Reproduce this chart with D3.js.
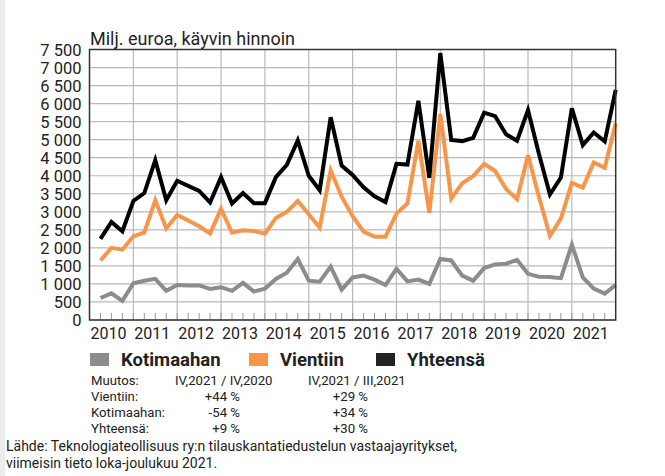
<!DOCTYPE html>
<html>
<head>
<meta charset="utf-8">
<script src="https://cdn.jsdelivr.net/npm/d3@7"></script>
<style>
    body { margin: 0; background: #fff; }
    text { font-family: Roboto, "DejaVu Sans", sans-serif; fill: #222; }
</style>
</head>
<body>
<div id="chart"></div>
<script>
    // years on the x axis, one value per quarter (Q1..Q4) in the series
    const years = [2010, 2011, 2012, 2013, 2014, 2015, 2016, 2017, 2018, 2019, 2020, 2021];

    const yhteensa = [
        2250, 2720, 2460, 3300,  3520, 4430, 3320, 3860,  3720, 3580, 3260, 3960,
        3230, 3520, 3240, 3240,  3960, 4300, 4980, 4000,  3600, 5620, 4280, 4020,
        3680, 3430, 3270, 4330,  4310, 6080, 3940, 7400,  4990, 4960, 5050, 5750,
        5650, 5150, 4970, 5820,  4600, 3480, 3950, 5870,  4850, 5200, 4950, 6380
    ];
    const vientiin = [
        1650, 2000, 1950, 2320,  2430, 3320, 2540, 2910,  2760, 2600, 2400, 3080,
        2420, 2490, 2470, 2390,  2830, 3000, 3300, 2930,  2560, 4150, 3420, 2880,
        2450, 2310, 2310, 2950,  3230, 4970, 2970, 5710,  3370, 3790, 3990, 4330,
        4130, 3630, 3350, 4570,  3410, 2330, 2810, 3800,  3670, 4370, 4220, 5450
    ];
    const kotimaahan = [
        610, 740, 530, 1020,  1090, 1140, 810, 970,  960, 960, 860, 910,
        810, 1030, 790, 870,  1140, 1310, 1690, 1090,  1060, 1480, 840, 1180,
        1230, 1120, 970, 1420,  1070, 1120, 1000, 1690,  1650, 1230, 1090, 1440,
        1540, 1560, 1670, 1280,  1200, 1190, 1160, 2090,  1180, 870, 730, 970
    ];
    const yTicks = d3.range(0, 7501, 500);

    const tableRows = [
        ["Muutos:", "IV,2021 / IV,2020", "IV,2021 / III,2021"],
        ["Vientiin:", "+44 %", "+29 %"],
        ["Kotimaahan:", "-54 %", "+34 %"],
        ["Yhteensä:", "+9 %", "+30 %"]
    ];

    const W = 665, H = 476;
    const plot = {left: 89.5, right: 615.7, top: 49.5, bottom: 320};

    const svg = d3.select("#chart").append("svg")
        .attr("width", W)
        .attr("height", H);

    // light grey strip on the left edge
    svg.append("rect").attr("x", 0).attr("y", 0).attr("width", 5).attr("height", H).attr("fill", "#ececec");

    const x = d3.scaleLinear()
        .domain([0, years.length * 4])
        .range([plot.left, plot.right]);
    const y = d3.scaleLinear()
        .domain([0, 7500])
        .range([plot.bottom, plot.top]);

    const fi = d3.formatLocale({decimal: ",", thousands: "\u00a0", grouping: [3], currency: ["", ""]});
    const fmt = fi.format(",d");

    // horizontal grid
    svg.append("g").selectAll("line")
        .data(yTicks)
        .enter().append("line")
        .attr("x1", plot.left).attr("x2", plot.right)
        .attr("y1", d => y(d)).attr("y2", d => y(d))
        .attr("stroke", "#b9b9b9").attr("stroke-width", 1.2);

    // vertical grid at year boundaries
    svg.append("g").selectAll("line")
        .data(d3.range(1, years.length))
        .enter().append("line")
        .attr("x1", d => x(d * 4)).attr("x2", d => x(d * 4))
        .attr("y1", plot.top).attr("y2", plot.bottom)
        .attr("stroke", "#b9b9b9").attr("stroke-width", 1.2);

    // quarter ticks along the bottom
    svg.append("g").selectAll("line")
        .data(d3.range(1, years.length * 4))
        .enter().append("line")
        .attr("x1", d => x(d)).attr("x2", d => x(d))
        .attr("y1", plot.bottom - 7).attr("y2", plot.bottom)
        .attr("stroke", "#999").attr("stroke-width", 1);

    // y axis labels
    const yAxis = svg.append("g")
        .attr("transform", `translate(${plot.left - 8},0)`)
        .call(d3.axisLeft(y).tickValues(yTicks).tickFormat(fmt).tickSize(0).tickPadding(0));
    yAxis.select(".domain").remove();
    yAxis.selectAll("text")
        .attr("font-family", "Roboto, sans-serif")
        .attr("font-size", 16.5)
        .attr("fill", "#222")
        .attr("dy", "0.36em");

    // year labels
    svg.append("g").selectAll("text")
        .data(years)
        .enter().append("text")
        .attr("x", (d, i) => x(i * 4 + 2) - 3)
        .attr("y", 339)
        .attr("text-anchor", "middle")
        .attr("font-size", 16)
        .text(d => d);

    // lines
    const line = d3.line()
        .x((d, i) => x(i + 1))
        .y(d => y(d));

    const series = [
        {values: kotimaahan, color: "#8c8c8c"},
        {values: vientiin, color: "#f7964a"},
        {values: yhteensa, color: "#000"}
    ];
    svg.append("g").selectAll("path")
        .data(series)
        .enter().append("path")
        .attr("d", d => line(d.values))
        .attr("fill", "none")
        .attr("stroke", d => d.color)
        .attr("stroke-width", 4)
        .attr("stroke-linejoin", "miter");

    // frame
    svg.append("rect")
        .attr("x", plot.left).attr("y", plot.top)
        .attr("width", plot.right - plot.left).attr("height", plot.bottom - plot.top)
        .attr("fill", "none").attr("stroke", "#333").attr("stroke-width", 1.5);

    // title
    svg.append("text")
        .attr("x", 90).attr("y", 45)
        .attr("font-size", 18)
        .text("Milj. euroa, käyvin hinnoin");

    // legend
    const legend = [
        {name: "Kotimaahan", color: "#8c8c8c", x: 90},
        {name: "Vientiin", color: "#f7964a", x: 249},
        {name: "Yhteensä", color: "#222", x: 376}
    ];
    const lg = svg.append("g").selectAll("g")
        .data(legend)
        .enter().append("g")
        .attr("transform", d => `translate(${d.x},353)`);
    lg.append("rect").attr("width", 19).attr("height", 13).attr("fill", d => d.color);
    lg.append("text")
        .attr("x", 31).attr("y", 13)
        .attr("font-size", 18.5)
        .attr("font-weight", "bold")
        .text(d => d.name);

    // change table
    const rowsG = svg.append("g").selectAll("g")
        .data(tableRows)
        .enter().append("g")
        .attr("transform", (d, i) => `translate(0,${385 + i * 15.9})`);
    rowsG.append("text").attr("x", 91).attr("font-size", 13.2).text(d => d[0]);
    rowsG.append("text")
        .attr("x", (d, i) => i === 0 ? 175 : 240)
        .attr("text-anchor", (d, i) => i === 0 ? "start" : "end")
        .attr("font-size", 13.2).text(d => d[1]);
    rowsG.append("text")
        .attr("x", (d, i) => i === 0 ? 308 : 368)
        .attr("text-anchor", (d, i) => i === 0 ? "start" : "end")
        .attr("font-size", 13.2).text(d => d[2]);

    // source
    svg.append("text")
        .attr("x", 6).attr("y", 451)
        .attr("font-size", 14)
        .text("Lähde: Teknologiateollisuus ry:n tilauskantatiedustelun vastaajayritykset,");
    svg.append("text")
        .attr("x", 6).attr("y", 468)
        .attr("font-size", 14)
        .text("viimeisin tieto loka-joulukuu 2021.");
</script>
</body>
</html>
